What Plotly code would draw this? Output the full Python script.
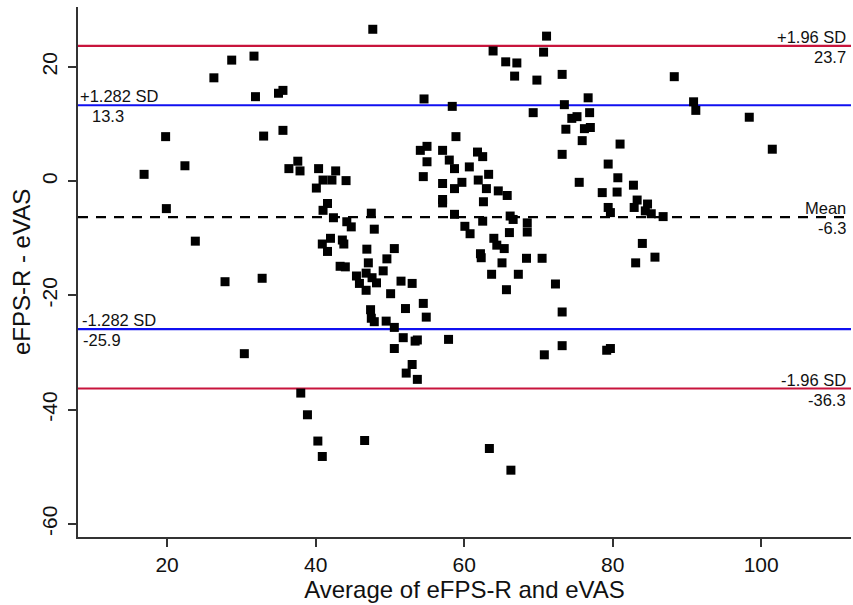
import plotly.graph_objects as go

# Bland-Altman data: average (x) and difference (y)
avg = [16.9, 19.8, 19.9, 22.4, 23.8, 26.3, 27.8, 28.7, 30.4, 31.7, 31.9, 32.8, 33.0,
       35.0, 35.6, 35.6, 36.4, 37.6, 37.9, 38.0, 38.9, 40.3, 40.9, 40.4, 40.1, 41.0,
       41.0, 42.2, 42.7, 44.1, 41.6, 42.4, 44.2, 44.8, 47.5, 47.9, 42.0, 40.9, 41.6,
       43.6, 43.8, 46.9, 50.6, 49.6, 47.1, 43.3, 44.0, 49.1, 45.5, 46.8, 47.6, 45.9,
       48.2, 51.5, 53.0, 46.8, 50.1, 54.5, 52.1, 54.9, 47.4, 47.5, 47.9, 49.5, 50.6,
       51.8, 53.4, 53.7, 50.6, 53.0, 52.2, 53.7, 46.6, 47.7, 54.6,
       54.1, 55.0, 55.0, 54.5, 57.9, 58.4, 58.9, 57.1, 58.0, 58.7, 57.1, 57.1, 57.1,
       58.7, 59.7, 60.7, 61.8, 62.5, 63.3, 61.9, 63.0, 64.6, 65.8, 62.6, 58.7, 62.5,
       66.2, 66.6, 60.1, 60.8, 68.5, 68.5, 66.1, 64.0, 64.4, 65.4, 62.2, 62.3, 65.1,
       68.4, 70.5, 63.7, 67.3, 65.7, 72.3, 73.2, 70.8, 73.2, 63.4, 66.3, 63.9, 65.6,
       67.1, 66.8, 69.8, 70.7, 71.1, 69.3,
       73.2, 73.5, 74.5, 75.2, 73.7, 73.2, 75.5, 76.7, 76.9, 75.9, 76.2, 77.0, 81.0,
       79.4, 80.7, 82.8, 78.6, 80.6, 79.4, 79.7, 83.3, 82.9, 84.7, 84.4, 85.2, 86.8,
       84.0, 85.7, 83.1, 79.2, 79.7, 88.3, 90.9, 91.2, 98.4, 101.5]
diff = [1.2, 7.8, -4.8, 2.7, -10.5, 18.1, -17.6, 21.2, -30.2, 21.9, 14.8, -17.0, 7.9,
        15.4, 15.9, 8.9, 2.2, 3.5, 1.8, -37.1, -40.9, -45.5, -48.2, 2.2, -1.2, -5.1,
        0.2, 0.2, 1.8, 0.1, -3.9, -6.4, -7.1, -8.0, -5.6, -8.4, -10.0, -11.0, -12.3,
        -10.3, -11.0, -11.9, -11.8, -13.6, -14.3, -14.9, -15.0, -15.7, -16.6, -16.1, -16.9, -17.9,
        -17.8, -17.5, -17.9, -19.1, -19.7, -21.4, -22.3, -23.8, -22.5, -24.0, -24.6, -24.5, -25.6,
        -27.4, -28.0, -27.8, -29.3, -32.1, -33.6, -34.7, -45.4, 26.6, 14.4,
        5.4, 6.1, 3.4, 0.8, -27.7, 13.1, 7.8, 5.4, 3.7, 2.2, -0.4, -3.2, -3.8,
        -1.3, -0.2, 2.5, 5.1, 4.3, 1.2, 0.2, -1.3, -1.7, -2.5, -3.6, -5.8, -7.0,
        -6.1, -6.7, -7.9, -9.2, -7.3, -8.9, -9.0, -10.0, -11.2, -11.8, -12.7, -13.4, -14.3,
        -13.5, -13.5, -16.3, -16.3, -19.0, -18.0, -22.9, -30.4, -28.8, -46.8, -50.6, 22.8, 20.9,
        20.7, 18.4, 17.7, 22.6, 25.4, 12.0,
        18.7, 13.4, 11.0, 11.3, 9.1, 4.7, -0.2, 14.6, 12.0, 7.1, 9.2, 9.4, 6.5,
        3.0, 0.6, -0.7, -2.0, -1.9, -4.6, -5.5, -3.3, -4.6, -4.0, -5.2, -5.7, -6.2,
        -10.9, -13.3, -14.3, -29.6, -29.3, 18.3, 13.9, 12.4, 11.2, 5.6]

mean_diff = -6.3
upper_196 = 23.7
lower_196 = -36.3
upper_1282 = 13.3
lower_1282 = -25.9

x_ticks = [20, 40, 60, 80, 100]
y_ticks = [20, 0, -20, -40, -60]

RED = "#C8143C"
BLUE = "#1010F0"
FONT = "Liberation Sans, Arial, sans-serif"

fig = go.Figure()

fig.add_trace(go.Scatter(
    x=avg, y=diff, mode="markers",
    marker=dict(symbol="square", size=9, color="black"),
    showlegend=False, cliponaxis=False,
))

for val, col, dash in [(upper_196, RED, "solid"), (lower_196, RED, "solid"),
                       (upper_1282, BLUE, "solid"), (lower_1282, BLUE, "solid"),
                       (mean_diff, "black", "10px,8px")]:
    fig.add_hline(y=val, line=dict(color=col, width=2.2, dash=dash), layer="below")

ann_font = dict(family=FONT, size=16.5, color="#111")

def right_label(top, val):
    fig.add_annotation(x=1, xref="paper", y=val, yref="y", text=top,
                       xanchor="right", yanchor="bottom", showarrow=False,
                       xshift=-3, yshift=-2, font=ann_font)
    fig.add_annotation(x=1, xref="paper", y=val, yref="y", text=f"{val:.1f}",
                       xanchor="right", yanchor="top", showarrow=False,
                       xshift=-3, yshift=0, font=ann_font)

right_label("+1.96 SD", upper_196)
right_label("Mean", mean_diff)
right_label("-1.96 SD", lower_196)

fig.add_annotation(x=0, xref="paper", y=upper_1282, yref="y", text="+1.282 SD",
                   xanchor="left", yanchor="bottom", showarrow=False, xshift=0, yshift=-2,
                   font=ann_font)
fig.add_annotation(x=0, xref="paper", y=upper_1282, yref="y", text=f"{upper_1282:.1f}",
                   xanchor="left", yanchor="top", showarrow=False, xshift=12, yshift=0,
                   font=ann_font)
fig.add_annotation(x=0, xref="paper", y=lower_1282, yref="y", text="-1.282 SD",
                   xanchor="left", yanchor="bottom", showarrow=False, xshift=2, yshift=-2,
                   font=ann_font)
fig.add_annotation(x=0, xref="paper", y=lower_1282, yref="y", text=f"{lower_1282:.1f}",
                   xanchor="left", yanchor="top", showarrow=False, xshift=3, yshift=0,
                   font=ann_font)

axis_common = dict(showgrid=False, zeroline=False, showline=True, linecolor="#333",
                   linewidth=1.5, ticks="outside", ticklen=8, tickwidth=1.5,
                   tickcolor="#333", tickfont=dict(family=FONT, size=21, color="#111"),
                   mirror=False)

fig.update_layout(
    width=853, height=605,
    margin=dict(l=78, r=2, t=7, b=68),
    paper_bgcolor="white", plot_bgcolor="white",
    font=dict(family=FONT, color="#111"),
    xaxis=dict(range=[8.0, 112.1], tickvals=x_ticks, ticktext=[str(v) for v in x_ticks],
               title=dict(text="Average of eFPS-R and eVAS", font=dict(size=24, family=FONT),
                          standoff=0),
               **axis_common),
    yaxis=dict(range=[-62.3, 30.5], tickvals=y_ticks, ticktext=[str(v) for v in y_ticks],
               tickangle=-90, ticklabelstandoff=3,
               title=dict(text="eFPS-R - eVAS", font=dict(size=24, family=FONT), standoff=0),
               **axis_common),
)

fig.write_html("out.html")
